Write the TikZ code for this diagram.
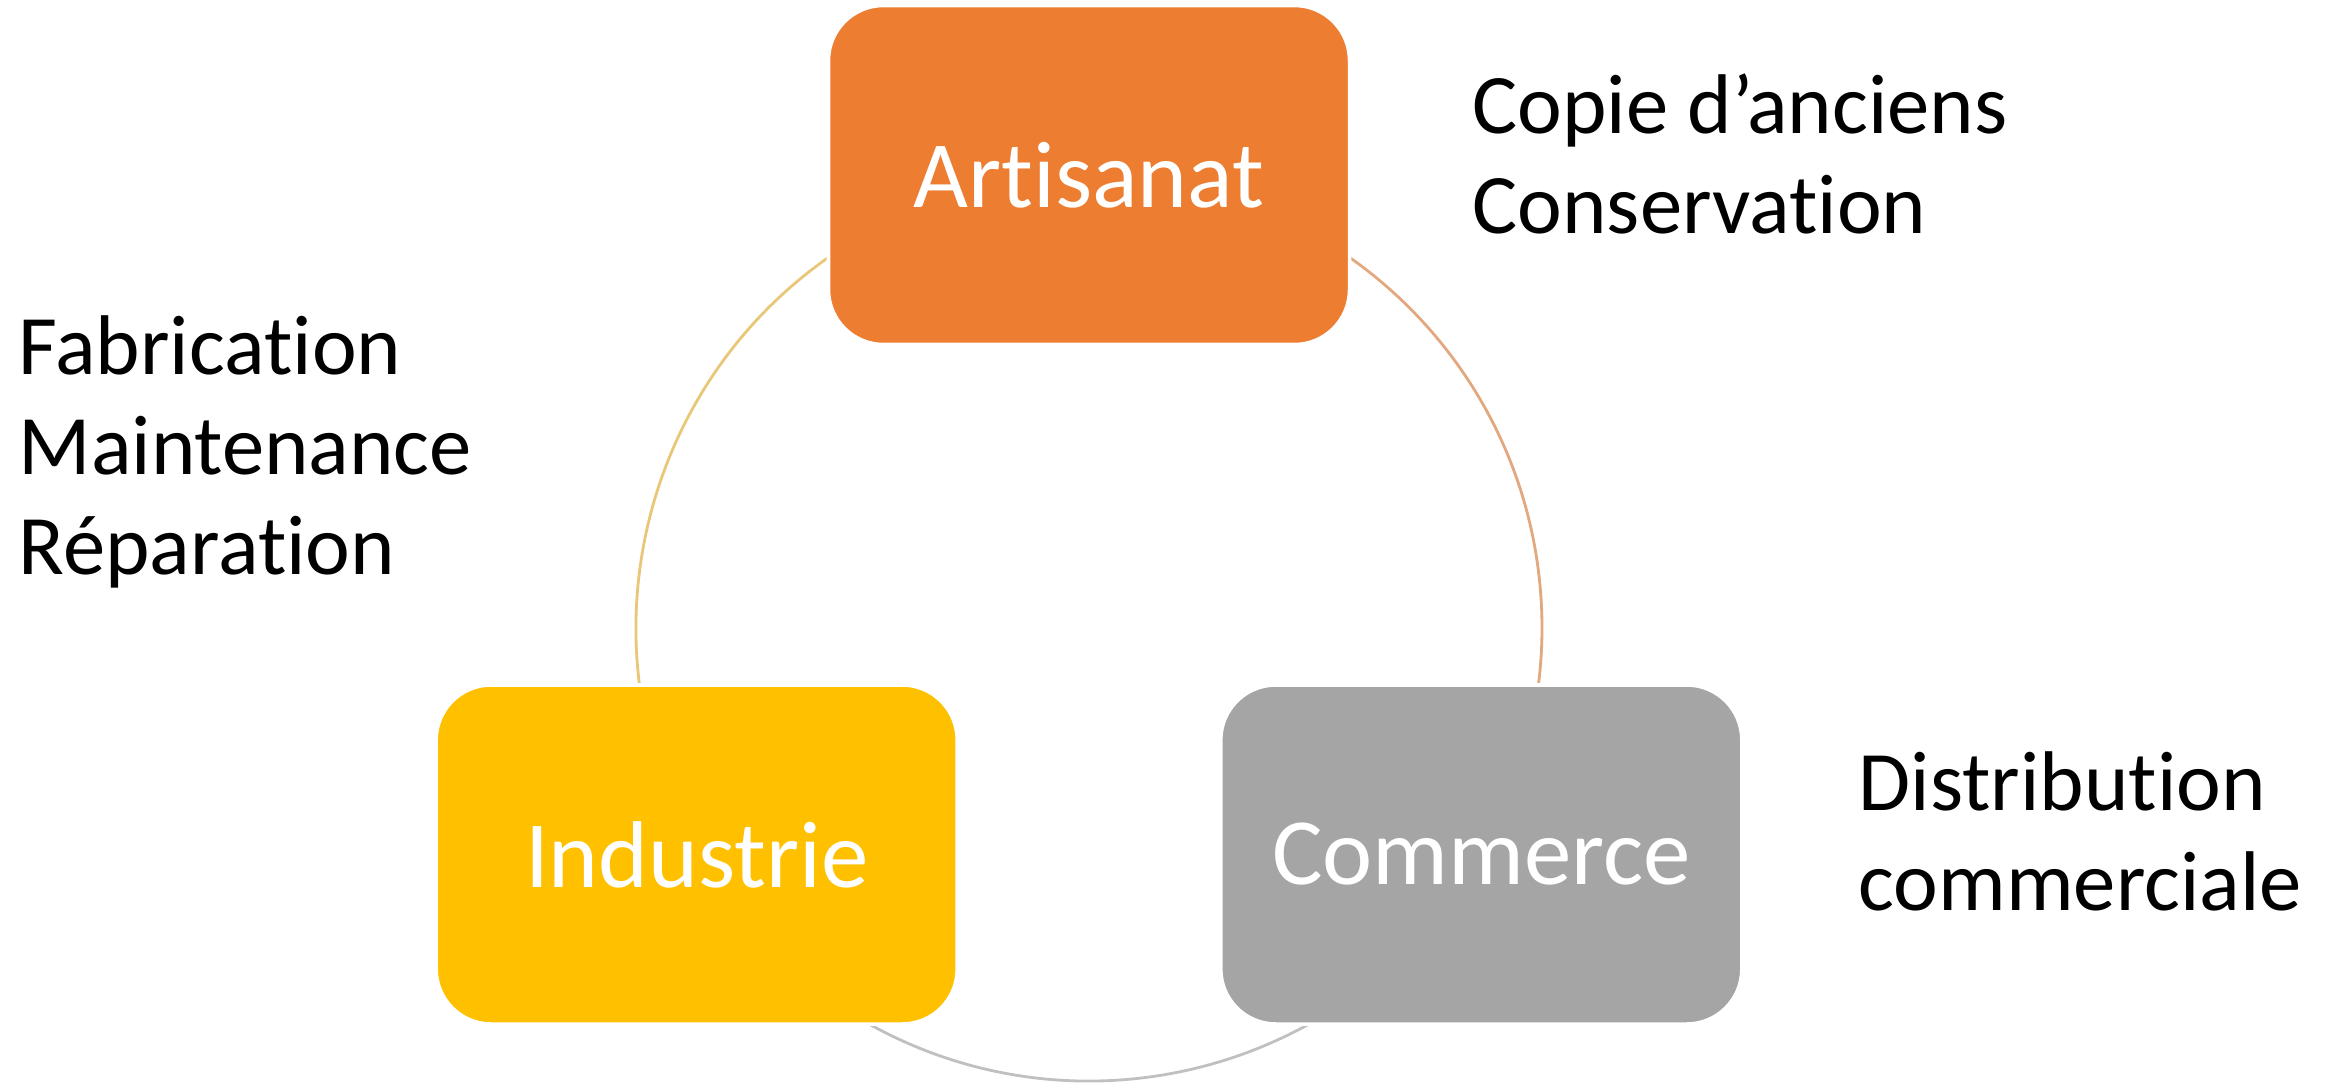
\documentclass[tikz,border=0pt]{standalone}
\usepackage{fontspec}
\setmainfont{Carlito}[Ligatures={NoCommon}]
\usetikzlibrary{backgrounds}
\definecolor{artorange}{HTML}{ED7D31}
\definecolor{indgold}{HTML}{FFC000}
\definecolor{comgray}{HTML}{A5A5A5}
\definecolor{ringleft}{RGB}{232,200,120}
\definecolor{ringright}{RGB}{226,168,128}
\definecolor{ringbottom}{RGB}{192,192,192}
\begin{document}
\begin{tikzpicture}[line join=round, line cap=round,
	box/.style={draw=white, line width=1pt, rounded corners=0.55cm, minimum width=5.21cm,
		minimum height=3.39cm, text=white, font=\fontsize{27}{32}\selectfont},
	side/.style={anchor=base west, align=left, inner sep=0pt, font=\fontsize{24.1}{28.4}\selectfont},
	ring/.style={line width=0.8pt}]
	\useasboundingbox (0,0) rectangle (23.31,10.84);
	\coordinate (O) at (10.89,4.56);
	\path (O) ++(90:4.53) node[box, fill=artorange] (art) {Artisanat};
	\path (O) ++(210:4.53) node[box, fill=indgold] (ind) {Industrie};
	\path (O) ++(-30:4.53) node[box, fill=comgray] (com) {Commerce};
	\begin{scope}[on background layer]
		\draw[ring, ringleft] (ind.center) arc[start angle=210, end angle=90, radius=4.53];
		\draw[ring, ringright] (art.center) arc[start angle=90, end angle=-30, radius=4.53];
		\draw[ring, ringbottom] (com.center) arc[start angle=-30, end angle=-150, radius=4.53];
	\end{scope}
	% textes
	\node[side] (copie) at (14.72,8.51) {Copie d’anciens\\Conservation};
	\node[side] (fab) at (0.18,5.10) {Fabrication\\Maintenance\\Réparation};
	\node[side] (distr) at (18.58,1.74) {Distribution\\commerciale};
\end{tikzpicture}
\end{document}
